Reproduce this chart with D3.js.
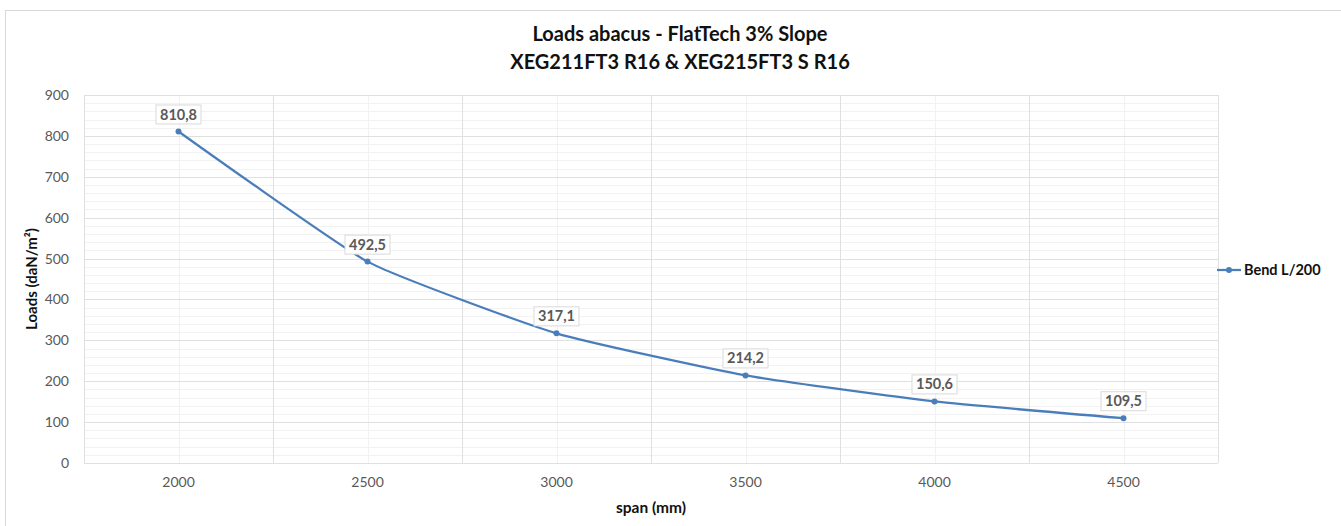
<!DOCTYPE html>
<html>
<head>
<meta charset="utf-8">
<script src="https://cdn.jsdelivr.net/npm/d3@7"></script>
<style>
  html, body { margin: 0; padding: 0; background: #fff; }
  svg { display: block; }
  text { font-family: Lato, "Open Sans", sans-serif; }
</style>
</head>
<body>
<svg id="chart" width="1341" height="526"></svg>
<script>
// ---- Data ----
const categories = ["2000", "2500", "3000", "3500", "4000", "4500"];
const values = [810.8, 492.5, 317.1, 214.2, 150.6, 109.5];
const seriesName = "Bend L/200";
const yTicks = [0, 100, 200, 300, 400, 500, 600, 700, 800, 900];
const titleLines = ["Loads abacus - FlatTech 3% Slope", "XEG211FT3 R16 & XEG215FT3 S R16"];
const xTitle = "span (mm)";
const yTitle = "Loads (daN/m²)";

// ---- Layout ----
const W = 1341, H = 526;
const plot = { left: 84, right: 1218, top: 95, bottom: 463 };
const lineColor = "#4a7ebb";

const svg = d3.select("#chart");

// outer chart border (top & left visible)
svg.append("rect")
  .attr("x", 5.5).attr("y", 10.5)
  .attr("width", W + 20).attr("height", H + 20)
  .attr("fill", "#fff").attr("stroke", "#d9d9d9").attr("stroke-width", 1);

const x = d3.scaleBand().domain(categories).range([plot.left, plot.right]).paddingInner(0).paddingOuter(0);
const y = d3.scaleLinear().domain([0, 900]).range([plot.bottom, plot.top]);

const g = svg.append("g");

// minor horizontal gridlines every 20
const minorY = d3.range(20, 900, 20).filter(v => v % 100 !== 0);
g.selectAll("line.minorY").data(minorY).enter().append("line")
  .attr("x1", plot.left).attr("x2", plot.right)
  .attr("y1", d => Math.round(y(d)) + 0.5).attr("y2", d => Math.round(y(d)) + 0.5)
  .attr("stroke", "#f2f2f2").attr("stroke-width", 1);

// minor vertical gridlines at category centres
g.selectAll("line.minorX").data(categories).enter().append("line")
  .attr("x1", d => Math.round(x(d) + x.bandwidth() / 2) + 0.5)
  .attr("x2", d => Math.round(x(d) + x.bandwidth() / 2) + 0.5)
  .attr("y1", plot.top).attr("y2", plot.bottom)
  .attr("stroke", "#f2f2f2").attr("stroke-width", 1);

// major horizontal gridlines
g.selectAll("line.majorY").data(yTicks).enter().append("line")
  .attr("x1", plot.left).attr("x2", plot.right)
  .attr("y1", d => Math.round(y(d)) + 0.5).attr("y2", d => Math.round(y(d)) + 0.5)
  .attr("stroke", "#e0e0e0").attr("stroke-width", 1);

// major vertical gridlines at category boundaries
const bounds = categories.map(c => x(c)).concat([plot.right]);
g.selectAll("line.majorX").data(bounds).enter().append("line")
  .attr("x1", d => Math.round(d) + 0.5).attr("x2", d => Math.round(d) + 0.5)
  .attr("y1", plot.top).attr("y2", plot.bottom)
  .attr("stroke", "#e0e0e0").attr("stroke-width", 1);

// y axis labels
const yAxis = d3.axisLeft(y).tickValues(yTicks).tickSize(0).tickPadding(0).tickFormat(d3.format("d"));
const yg = svg.append("g").attr("transform", `translate(${plot.left - 15},0)`).call(yAxis);
yg.select(".domain").remove();
yg.selectAll("text").attr("fill", "#595959").style("font-size", "14px").style("font-family", "Lato, sans-serif");

// x axis labels
const xAxis = d3.axisBottom(x).tickSize(0).tickPadding(0);
const xg = svg.append("g").attr("transform", `translate(0,${plot.bottom + 14})`).call(xAxis);
xg.select(".domain").remove();
xg.selectAll("text").attr("fill", "#595959").style("font-size", "14px").style("font-family", "Lato, sans-serif");

// line (smoothed, mild)
const cx = (d, i) => x(categories[i]) + x.bandwidth() / 2;
const line = d3.line().x((d, i) => cx(d, i)).y(d => y(d)).curve(d3.curveCardinal.tension(0.55));
svg.append("path").datum(values)
  .attr("d", line).attr("fill", "none")
  .attr("stroke", lineColor).attr("stroke-width", 2.25).attr("stroke-linejoin", "round");

svg.selectAll("circle.pt").data(values).enter().append("circle")
  .attr("cx", (d, i) => cx(d, i)).attr("cy", d => y(d)).attr("r", 3)
  .attr("fill", lineColor);

// data labels
const fmt = v => v.toFixed(1).replace(".", ",");
const lbl = svg.selectAll("g.lbl").data(values).enter().append("g")
  .attr("transform", (d, i) => `translate(${cx(d, i)},${y(d) - 17})`);
lbl.each(function(d) {
  const gg = d3.select(this);
  const t = gg.append("text").text(fmt(d))
    .attr("text-anchor", "middle").attr("dy", "0.35em")
    .attr("fill", "#595959").style("font-size", "14.5px").style("font-weight", "bold");
  const bb = t.node().getBBox();
  gg.insert("rect", "text")
    .attr("x", Math.round(bb.x - 4) + 0.5).attr("y", -9.5)
    .attr("width", Math.round(bb.width + 8)).attr("height", 19)
    .attr("fill", "#fff").attr("stroke", "#d9d9d9").attr("stroke-width", 1);
});

// titles
svg.selectAll("text.title").data(titleLines).enter().append("text")
  .attr("x", 680).attr("y", (d, i) => 41 + i * 28)
  .attr("text-anchor", "middle")
  .attr("fill", "#111").style("font-size", "20px").style("font-weight", "bold")
  .text(d => d);

svg.append("text").attr("x", (plot.left + plot.right) / 2).attr("y", 513)
  .attr("text-anchor", "middle").attr("fill", "#111")
  .style("font-size", "15.5px").style("font-weight", "bold").text(xTitle);

svg.append("text")
  .attr("transform", `translate(37,${(plot.top + plot.bottom) / 2}) rotate(-90)`)
  .attr("text-anchor", "middle").attr("fill", "#111")
  .style("font-size", "15px").style("font-weight", "bold").text(yTitle);

// legend
const lgY = 270;
svg.append("line").attr("x1", 1217).attr("x2", 1241).attr("y1", lgY).attr("y2", lgY)
  .attr("stroke", lineColor).attr("stroke-width", 2.25);
svg.append("circle").attr("cx", 1229).attr("cy", lgY).attr("r", 3).attr("fill", lineColor);
svg.append("text").attr("x", 1244).attr("y", lgY).attr("dy", "0.35em")
  .attr("fill", "#111").style("font-size", "14.5px").style("font-weight", "bold").text(seriesName);
</script>
</body>
</html>
